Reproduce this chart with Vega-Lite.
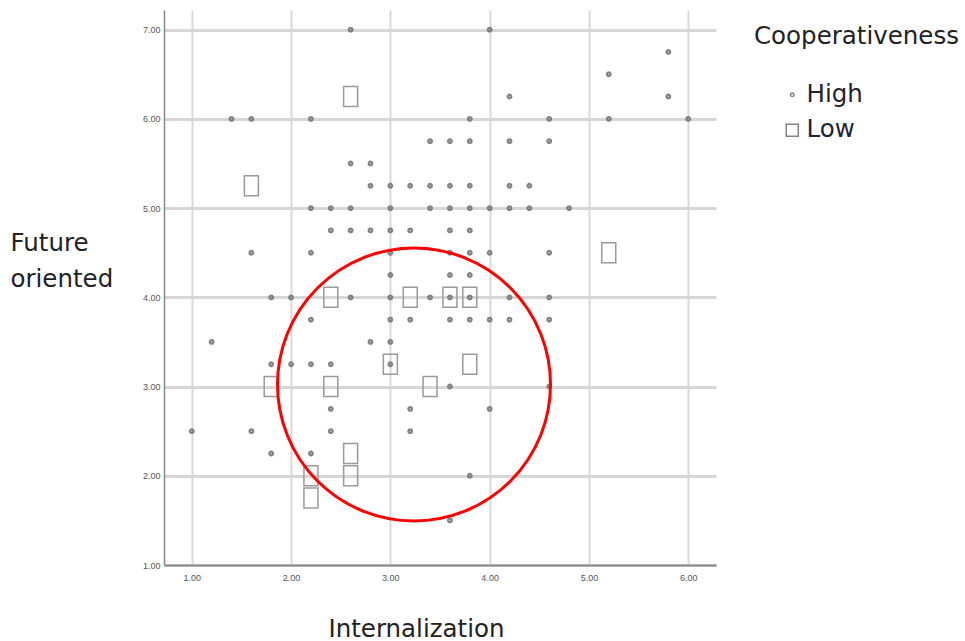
{
  "$schema": "https://vega.github.io/schema/vega-lite/v6.json",
  "width": 552,
  "height": 555,
  "autosize": {"type": "none"},
  "padding": {"left": 164, "top": 10, "right": 249, "bottom": 76},
  "background": "white",
  "config": {
    "view": {"stroke": null},
    "font": "DejaVu Sans"
  },
  "datasets": {
    "pts": [
      {"x":2.6,"y":7.0,"c":"High"},{"x":4.0,"y":7.0,"c":"High"},
      {"x":5.8,"y":6.75,"c":"High"},
      {"x":5.2,"y":6.5,"c":"High"},
      {"x":4.2,"y":6.25,"c":"High"},{"x":5.8,"y":6.25,"c":"High"},
      {"x":1.4,"y":6.0,"c":"High"},{"x":1.6,"y":6.0,"c":"High"},{"x":2.2,"y":6.0,"c":"High"},{"x":3.8,"y":6.0,"c":"High"},{"x":4.6,"y":6.0,"c":"High"},{"x":5.2,"y":6.0,"c":"High"},{"x":6.0,"y":6.0,"c":"High"},
      {"x":3.4,"y":5.75,"c":"High"},{"x":3.6,"y":5.75,"c":"High"},{"x":3.8,"y":5.75,"c":"High"},{"x":4.2,"y":5.75,"c":"High"},{"x":4.6,"y":5.75,"c":"High"},
      {"x":2.6,"y":5.5,"c":"High"},{"x":2.8,"y":5.5,"c":"High"},
      {"x":2.8,"y":5.25,"c":"High"},{"x":3.0,"y":5.25,"c":"High"},{"x":3.2,"y":5.25,"c":"High"},{"x":3.4,"y":5.25,"c":"High"},{"x":3.6,"y":5.25,"c":"High"},{"x":3.8,"y":5.25,"c":"High"},{"x":4.2,"y":5.25,"c":"High"},{"x":4.4,"y":5.25,"c":"High"},
      {"x":2.2,"y":5.0,"c":"High"},{"x":2.4,"y":5.0,"c":"High"},{"x":2.6,"y":5.0,"c":"High"},{"x":3.0,"y":5.0,"c":"High"},{"x":3.4,"y":5.0,"c":"High"},{"x":3.6,"y":5.0,"c":"High"},{"x":3.8,"y":5.0,"c":"High"},{"x":4.0,"y":5.0,"c":"High"},{"x":4.2,"y":5.0,"c":"High"},{"x":4.4,"y":5.0,"c":"High"},{"x":4.8,"y":5.0,"c":"High"},
      {"x":2.4,"y":4.75,"c":"High"},{"x":2.6,"y":4.75,"c":"High"},{"x":2.8,"y":4.75,"c":"High"},{"x":3.0,"y":4.75,"c":"High"},{"x":3.2,"y":4.75,"c":"High"},{"x":3.6,"y":4.75,"c":"High"},{"x":3.8,"y":4.75,"c":"High"},
      {"x":1.6,"y":4.5,"c":"High"},{"x":2.2,"y":4.5,"c":"High"},{"x":3.0,"y":4.5,"c":"High"},{"x":3.6,"y":4.5,"c":"High"},{"x":3.8,"y":4.5,"c":"High"},{"x":4.0,"y":4.5,"c":"High"},{"x":4.6,"y":4.5,"c":"High"},
      {"x":3.0,"y":4.25,"c":"High"},{"x":3.6,"y":4.25,"c":"High"},{"x":3.8,"y":4.25,"c":"High"},
      {"x":1.8,"y":4.0,"c":"High"},{"x":2.0,"y":4.0,"c":"High"},{"x":2.6,"y":4.0,"c":"High"},{"x":3.0,"y":4.0,"c":"High"},{"x":3.4,"y":4.0,"c":"High"},{"x":3.6,"y":4.0,"c":"High"},{"x":3.8,"y":4.0,"c":"High"},{"x":4.2,"y":4.0,"c":"High"},{"x":4.6,"y":4.0,"c":"High"},
      {"x":2.2,"y":3.75,"c":"High"},{"x":3.0,"y":3.75,"c":"High"},{"x":3.2,"y":3.75,"c":"High"},{"x":3.6,"y":3.75,"c":"High"},{"x":3.8,"y":3.75,"c":"High"},{"x":4.0,"y":3.75,"c":"High"},{"x":4.2,"y":3.75,"c":"High"},{"x":4.6,"y":3.75,"c":"High"},
      {"x":1.2,"y":3.5,"c":"High"},{"x":2.8,"y":3.5,"c":"High"},{"x":3.0,"y":3.5,"c":"High"},
      {"x":1.8,"y":3.25,"c":"High"},{"x":2.0,"y":3.25,"c":"High"},{"x":2.2,"y":3.25,"c":"High"},{"x":2.4,"y":3.25,"c":"High"},{"x":3.0,"y":3.25,"c":"High"},
      {"x":3.6,"y":3.0,"c":"High"},{"x":4.6,"y":3.0,"c":"High"},
      {"x":2.4,"y":2.75,"c":"High"},{"x":3.2,"y":2.75,"c":"High"},{"x":4.0,"y":2.75,"c":"High"},
      {"x":1.0,"y":2.5,"c":"High"},{"x":1.6,"y":2.5,"c":"High"},{"x":2.4,"y":2.5,"c":"High"},{"x":3.2,"y":2.5,"c":"High"},
      {"x":1.8,"y":2.25,"c":"High"},{"x":2.2,"y":2.25,"c":"High"},
      {"x":3.8,"y":2.0,"c":"High"},
      {"x":3.6,"y":1.5,"c":"High"},
      {"x":2.6,"y":6.25,"c":"Low"},{"x":1.6,"y":5.25,"c":"Low"},{"x":5.2,"y":4.5,"c":"Low"},
      {"x":2.4,"y":4.0,"c":"Low"},{"x":3.2,"y":4.0,"c":"Low"},{"x":3.6,"y":4.0,"c":"Low"},{"x":3.8,"y":4.0,"c":"Low"},
      {"x":3.0,"y":3.25,"c":"Low"},{"x":3.8,"y":3.25,"c":"Low"},
      {"x":1.8,"y":3.0,"c":"Low"},{"x":2.4,"y":3.0,"c":"Low"},{"x":3.4,"y":3.0,"c":"Low"},
      {"x":2.6,"y":2.25,"c":"Low"},{"x":2.6,"y":2.0,"c":"Low"},{"x":2.2,"y":2.0,"c":"Low"},{"x":2.2,"y":1.75,"c":"Low"}
    ],
    "ring": [{"x":3.238,"y":3.023}]
  },
  "encoding": {
    "x": {
      "field": "x", "type": "quantitative",
      "scale": {"domain": [0.72, 6.28], "nice": false, "zero": false},
      "axis": {
        "values": [1,2,3,4,5,6], "format": ".2f",
        "title": "Internalization",
        "titleFontSize": 24.5, "titleFontWeight": "normal", "titleColor": "#222", "titleFont": "DejaVu Sans",
        "titleX": 252, "titleY": 71, "titleBaseline": "alphabetic", "titleAnchor": null, "titleAlign": "center",
        "labelFontSize": 9, "labelColor": "#555", "labelFont": "Liberation Sans", "labelPadding": 8,
        "ticks": false, "domainColor": "#8a8a8a", "domainWidth": 2,
        "grid": true, "gridColor": "#d9d9d9", "gridWidth": 2
      }
    },
    "y": {
      "field": "y", "type": "quantitative",
      "scale": {"domain": [1, 7.22], "nice": false, "zero": false},
      "axis": {
        "values": [1,2,3,4,5,6,7], "format": ".2f",
        "title": ["Future", "oriented"],
        "titleFontSize": 24.5, "titleFontWeight": "normal", "titleColor": "#222", "titleFont": "DejaVu Sans",
        "titleAngle": 0, "titleAlign": "left", "titleBaseline": "alphabetic",
        "titleX": -154, "titleY": 240, "titleLineHeight": 36,
        "labelFontSize": 9, "labelColor": "#555", "labelFont": "Liberation Sans", "labelPadding": 4,
        "ticks": false, "domainColor": "#8a8a8a", "domainWidth": 1.5,
        "grid": true, "gridColor": "#d6d6d6", "gridWidth": 3
      }
    }
  },
  "layer": [
    {
      "data": {"values": [{}]},
      "mark": {"type": "rule", "color": "#dcdcdc", "strokeWidth": 6},
      "encoding": {"x": {"datum": 1}, "y": null}
    },
    {
      "data": {"name": "pts"},
      "transform": [{"filter": "datum.c === 'Low'"}],
      "mark": {"type": "point", "shape": "M-0.7,-1L0.7,-1L0.7,1L-0.7,1Z", "filled": false, "size": 400, "stroke": "#9a9a9a", "strokeWidth": 1.5, "opacity": 1}
    },
    {
      "data": {"name": "pts"},
      "transform": [{"filter": "datum.c === 'High'"}],
      "mark": {"type": "point", "filled": false, "stroke": "#777777", "strokeWidth": 2.4, "opacity": 0.9},
      "encoding": {
        "shape": {
          "field": "c", "type": "nominal",
          "scale": {"domain": ["High", "Low"], "range": ["circle", "square"]},
          "legend": {
            "title": "Cooperativeness",
            "orient": "none", "legendX": 590, "legendY": 15,
            "titleFontSize": 24.5, "titleFontWeight": "normal", "titleColor": "#222", "titleFont": "DejaVu Sans",
            "titleBaseline": "top", "titlePadding": 33, "titleLimit": 400,
            "labelFontSize": 24.5, "labelColor": "#223", "labelFont": "DejaVu Sans", "labelOffset": 2, "labelLimit": 300,
            "rowPadding": 10.5, "symbolOffset": 26,
            "symbolStrokeColor": "#111", "symbolFillColor": "transparent", "symbolStrokeWidth": 1.5, "symbolOpacity": 1
          }
        },
        "size": {
          "field": "c", "type": "nominal",
          "scale": {"domain": ["High", "Low"], "range": [12, 144]},
          "legend": {
            "title": "Cooperativeness"
          }
        }
      }
    },
    {
      "data": {"name": "ring"},
      "mark": {"type": "point", "shape": "circle", "filled": false, "size": 74529, "stroke": "#ff0000", "strokeWidth": 3, "opacity": 1}
    }
  ]
}
